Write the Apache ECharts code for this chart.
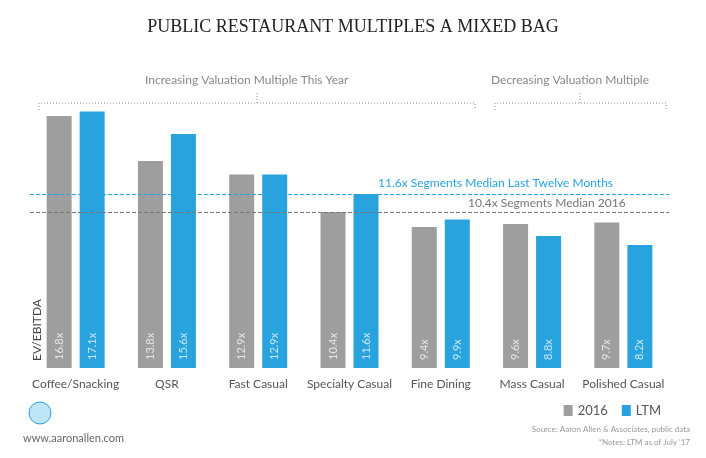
<!DOCTYPE html>
<html><head><meta charset="utf-8">
<script src="https://cdn.jsdelivr.net/npm/echarts@6/dist/echarts.min.js"></script>
<style>html,body{margin:0;padding:0;background:#fff}#c{width:706px;height:458px}</style>
</head><body><div id="c"></div>
<script>
const categories=['Coffee/Snacking','QSR','Fast Casual','Specialty Casual','Fine Dining','Mass Casual','Polished Casual'];
const values2016=[16.8,13.8,12.9,10.4,9.4,9.6,9.7];
const valuesLTM=[17.1,15.6,12.9,11.6,9.9,8.8,8.2];
const medianLTM=11.6, median2016=10.4;
const chart=echarts.init(document.getElementById('c'));
const lbl={show:true,position:'insideBottom',rotate:90,align:'left',verticalAlign:'middle',distance:8,color:'rgba(255,255,255,0.75)',fontSize:11,fontFamily:'Lato',formatter:p=>p.value.toFixed(1)+'x'};
chart.setOption({
 animation:false,
 title:{text:'PUBLIC RESTAURANT MULTIPLES A MIXED BAG',left:'center',top:13,textStyle:{fontFamily:'Liberation Serif',fontWeight:'normal',fontSize:18,color:'#222'}},
 grid:{left:30,right:37,top:98,bottom:90},
 xAxis:{type:'category',data:categories,axisLine:{show:false},axisTick:{show:false},axisLabel:{interval:0,color:'#555',fontSize:12,fontFamily:'Lato',margin:10}},
 yAxis:{type:'value',min:0,max:18,show:false},
 legend:{data:['2016','LTM'],right:40,top:399,itemWidth:9,itemHeight:11,itemGap:14,icon:'rect',textStyle:{color:'#555',fontSize:13,fontFamily:'Lato'}},
 series:[
  {name:'2016',type:'bar',data:values2016,barWidth:25,barGap:'32%',itemStyle:{color:'#9e9e9e'},label:lbl,
   markLine:{symbol:'none',silent:true,data:[
    {yAxis:medianLTM,lineStyle:{color:'#29a3dd',type:'dashed',width:1},label:{show:false}},
    {yAxis:median2016,lineStyle:{color:'#777',type:'dashed',width:1},label:{show:false}}]}},
  {name:'LTM',type:'bar',data:valuesLTM,barWidth:25,itemStyle:{color:'#29a3dd'},label:lbl}
 ],
 graphic:[
  {type:'text',left:378,top:177,style:{text:'11.6x Segments Median Last Twelve Months',fill:'#29a3dd',fontSize:12,fontFamily:'Lato'}},
  {type:'text',left:468,top:197,style:{text:'10.4x Segments Median 2016',fill:'#777',fontSize:12,fontFamily:'Lato'}},
  {type:'text',left:145,top:74,style:{text:'Increasing Valuation Multiple This Year',fill:'#888',fontSize:12,fontFamily:'Lato'}},
  {type:'text',left:491,top:74,style:{text:'Decreasing Valuation Multiple',fill:'#888',fontSize:12,fontFamily:'Lato'}},
  {type:'polyline',shape:{points:[[39,110],[39,103],[475,103],[475,110]]},style:{stroke:'#888',fill:null,lineDash:[1,2]}},
  {type:'polyline',shape:{points:[[257,103],[257,93]]},style:{stroke:'#888',lineDash:[1,2]}},
  {type:'polyline',shape:{points:[[495,110],[495,103],[666,103],[666,110]]},style:{stroke:'#888',fill:null,lineDash:[1,2]}},
  {type:'polyline',shape:{points:[[580,103],[580,93]]},style:{stroke:'#888',lineDash:[1,2]}},
  {type:'text',x:37,y:330,rotation:Math.PI/2,style:{text:'EV/EBITDA',fill:'#444',fontSize:12,fontFamily:'Lato',align:'center',verticalAlign:'middle'}},
  {type:'circle',shape:{cx:40,cy:413,r:11},style:{fill:'#bfe6f7',stroke:'#29a3dd'}},
  {type:'text',left:23,top:433,style:{text:'www.aaronallen.com',fill:'#666',fontSize:11,fontFamily:'Lato'}},
  {type:'text',right:16,top:425,style:{text:'Source: Aaron Allen & Associates, public data',fill:'#999',fontSize:8,fontFamily:'Lato',align:'right'}},
  {type:'text',right:16,top:438,style:{text:'*Notes: LTM as of July \'17',fill:'#999',fontSize:8,fontFamily:'Lato',align:'right'}}
 ]
});
</script></body></html>
